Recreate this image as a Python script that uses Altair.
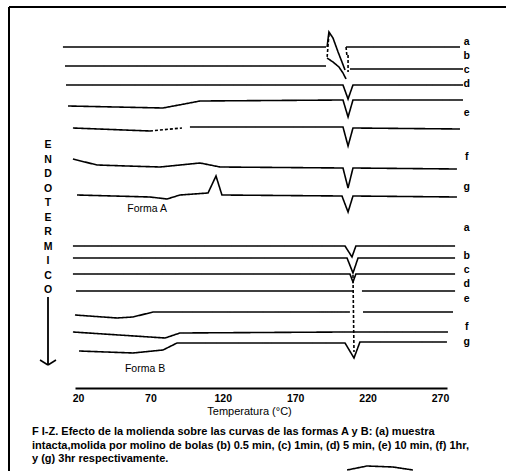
import altair as alt
import pandas as pd

# ---------------- data (temperature in °C, signal in arbitrary units) ----------------
# Forma A
A_a1_T = [9.6, 191.3];                              A_a1_S = [341, 341]
A_a_spike_T = [192.0, 193.3, 196.1, 199.6, 202.3, 204.4]; A_a_spike_S = [341, 356, 350, 336, 326, 318]
A_a_dash_T = [193.3, 192.0];                         A_a_dash_S = [354, 330]
A_a2_T = [205.1, 283.8];                             A_a2_S = [341, 341]
A_a2_dash_T = [205.1, 205.8];                        A_a2_dash_S = [341, 331]
A_b_T = [192.0, 196.1, 200.2, 203.0, 205.1];         A_b_S = [330, 326, 321, 315, 309]
A_c1_T = [11.0, 191.3];                              A_c1_S = [322, 322]
A_c_dash_T = [206.5, 206.5];                         A_c_dash_S = [333, 316]
A_c2_T = [207.8, 285.9];                             A_c2_S = [319, 319]
A_d_T = [11.7, 203.0, 206.5, 209.9, 285.9];          A_d_S = [303, 303, 289, 303, 303]
A_e_T = [13.1, 78.7, 104.3, 203.0, 206.5, 209.9, 285.9]; A_e_S = [282, 280, 287, 288, 271, 288, 288]
A_f1_T = [16.5, 69.7];                               A_f1_S = [260, 257]
A_f_dash_T = [69.7, 91.8];                           A_f_dash_S = [257, 260]
A_f2_T = [97.3, 203.0, 206.5, 209.9, 283.8];         A_f2_S = [261, 261, 242, 260, 259]
A_g_T = [16.5, 33.1, 53.8, 76.6, 104.3, 118.1, 203.0, 206.5, 209.9, 281.7]
A_g_S = [229, 223, 222, 221, 225, 221, 220, 200, 220, 219]
A_h_T = [19.3, 69.7, 81.5, 90.4, 109.8, 115.3, 119.4, 202.3, 206.5, 209.9, 281.7]
A_h_S = [193, 191, 189, 193, 195, 212, 193, 192, 176, 192, 191]

# Forma B
B_a_T = [16.5, 204.4, 209.2, 211.9, 280.4];          B_a_S = [142, 142, 131, 142, 142]
B_b_T = [16.5, 205.8, 209.9, 213.4, 280.4];          B_b_S = [130, 130, 115, 130, 130]
B_c_T = [16.5, 207.8, 209.9, 211.9, 280.4];          B_c_S = [114, 114, 106, 114, 114]
B_d1_T = [18.6, 209.9];                              B_d1_S = [97, 97]
B_d2_T = [216.1, 280.4];                             B_d2_S = [97, 97]
B_e1_T = [17.9, 46.9, 58.0, 71.8, 207.8];            B_e1_S = [73, 70, 71, 76, 76]
B_e2_T = [216.8, 279.0];                             B_e2_S = [76, 76]
B_f_T = [16.5, 80.1, 90.4, 204.4, 275.5];            B_f_S = [56, 50, 55, 56, 56]
B_g_T = [20.7, 58.0, 78.7, 88.4, 204.4, 210.6, 214.7, 274.8]
B_g_S = [37, 35, 38, 45, 45, 30, 46, 46]
B_dash_T = [209.9, 210.6];                           B_dash_S = [113, 36]

# stray stroke from the next figure of the scanned page (bottom right)
scan_T = [205.8, 219.6, 237.5, 251.3]
scan_S = [-82, -78, -79, -82]

# curve letters
lab_txt = ["a", "b", "c", "d", "e", "f", "g", "a", "b", "c", "d", "e", "f", "g"]
lab_T = [288.5] * 14
lab_S = [346, 332, 318, 304, 275, 231, 201, 160, 132, 118, 104, 89, 61, 46]

forma_txt = ["Forma A", "Forma B"]
forma_T = [67.7, 66.3]
forma_S = [179, 19]

x_ticks = [20, 70, 120, 170, 220, 270]

caption = ("F I-Z. Efecto de la molienda sobre las curvas de las formas A y B: (a) muestra\n"
           "intacta,molida por molino de bolas (b) 0.5 min, (c) 1min, (d) 5 min, (e) 10 min, (f) 1hr,\n"
           "y (g) 3hr respectivamente.")

segments = [
    ("A_a1", "solid", A_a1_T, A_a1_S), ("A_a_spike", "solid", A_a_spike_T, A_a_spike_S),
    ("A_a_dash", "dashed", A_a_dash_T, A_a_dash_S), ("A_a2", "solid", A_a2_T, A_a2_S),
    ("A_a2_dash", "dashed", A_a2_dash_T, A_a2_dash_S), ("A_b", "solid", A_b_T, A_b_S),
    ("A_c1", "solid", A_c1_T, A_c1_S), ("A_c_dash", "dashed", A_c_dash_T, A_c_dash_S),
    ("A_c2", "solid", A_c2_T, A_c2_S), ("A_d", "solid", A_d_T, A_d_S),
    ("A_e", "solid", A_e_T, A_e_S), ("A_f1", "solid", A_f1_T, A_f1_S),
    ("A_f_dash", "dashed", A_f_dash_T, A_f_dash_S), ("A_f2", "solid", A_f2_T, A_f2_S),
    ("A_g", "solid", A_g_T, A_g_S), ("A_h", "solid", A_h_T, A_h_S),
    ("B_a", "solid", B_a_T, B_a_S), ("B_b", "solid", B_b_T, B_b_S),
    ("B_c", "solid", B_c_T, B_c_S), ("B_d1", "solid", B_d1_T, B_d1_S),
    ("B_d2", "solid", B_d2_T, B_d2_S), ("B_e1", "solid", B_e1_T, B_e1_S),
    ("B_e2", "solid", B_e2_T, B_e2_S), ("B_f", "solid", B_f_T, B_f_S),
    ("B_g", "solid", B_g_T, B_g_S), ("B_dash", "dashed", B_dash_T, B_dash_S),
    ("scan", "solid", scan_T, scan_S),
]

rows = []
for name, style, ts, ss in segments:
    for i, (t, s) in enumerate(zip(ts, ss)):
        rows.append({"seg": name, "style": style, "i": i, "T": t, "S": s})
df = pd.DataFrame(rows)

df_lab = pd.DataFrame({"txt": lab_txt, "T": lab_T, "S": lab_S})
df_forma = pd.DataFrame({"txt": forma_txt, "T": forma_T, "S": forma_S})
one = pd.DataFrame({"k": [0]})

FONT = "Liberation Sans"
W, H = 372, 380

xscale = alt.Scale(domain=[17.93, 274.83], nice=False, zero=False)
yscale = alt.Scale(domain=[0, 380], nice=False, zero=False)

curves = alt.Chart(df).mark_line(color="black", strokeWidth=1.6, clip=False).encode(
    x=alt.X("T:Q", scale=xscale,
            axis=alt.Axis(values=x_ticks, grid=False, ticks=False, domainColor="black",
                          domainWidth=2, labelFont=FONT, labelFontWeight="bold",
                          labelFontSize=10.5, labelColor="black", labelPadding=5,
                          labelFlush=False, title="Temperatura (°C)", titleFont=FONT,
                          titleFontSize=11, titleFontWeight="normal", titleColor="black",
                          titleX=174, titleY=23, titleBaseline="middle", titleAlign="center")),
    y=alt.Y("S:Q", scale=yscale, axis=None),
    detail="seg:N",
    order="i:Q",
    strokeDash=alt.StrokeDash("style:N", legend=None,
                              scale=alt.Scale(domain=["solid", "dashed"], range=[[1, 0], [3, 2]])),
)

letters = alt.Chart(df_lab).mark_text(font=FONT, fontWeight="bold", fontSize=10.5,
                                      color="black", align="center", baseline="middle").encode(
    x=alt.X("T:Q", scale=xscale), y=alt.Y("S:Q", scale=yscale), text="txt:N")

formas = alt.Chart(df_forma).mark_text(font=FONT, fontWeight="normal", fontSize=10.5,
                                       color="black", align="center", baseline="middle").encode(
    x=alt.X("T:Q", scale=xscale), y=alt.Y("S:Q", scale=yscale), text="txt:N")

endo = alt.Chart(one).mark_text(font=FONT, fontWeight="bold", fontSize=10.5, color="black",
                                align="center", baseline="top", lineBreak="\n",
                                lineHeight=14.5).encode(
    x=alt.value(-27), y=alt.value(132), text=alt.value("E\nN\nD\nO\nT\nE\nR\nM\nI\nC\nO"))

arrow_shaft = alt.Chart(one).mark_rule(color="black", strokeWidth=1.8).encode(
    x=alt.value(-27), y=alt.value(289), y2=alt.value(357))
arrow_l = alt.Chart(one).mark_rule(color="black", strokeWidth=1.5).encode(
    x=alt.value(-35), x2=alt.value(-27), y=alt.value(352), y2=alt.value(357))
arrow_r = alt.Chart(one).mark_rule(color="black", strokeWidth=1.5).encode(
    x=alt.value(-19), x2=alt.value(-27), y=alt.value(352), y2=alt.value(357))

border_l = alt.Chart(one).mark_rule(color="black", strokeWidth=2).encode(
    x=alt.value(-66), y=alt.value(-1), y2=alt.value(463))
border_t = alt.Chart(one).mark_rule(color="black", strokeWidth=2).encode(
    x=alt.value(-66), x2=alt.value(431), y=alt.value(-1))

cap = alt.Chart(one).mark_text(font=FONT, fontWeight="bold", fontSize=11, color="black",
                               align="left", baseline="top", lineBreak="\n",
                               lineHeight=13.5).encode(
    x=alt.value(-43), y=alt.value(418), text=alt.value(caption))

chart = alt.layer(curves, letters, formas, endo, arrow_shaft, arrow_l, arrow_r,
                  border_l, border_t, cap).properties(
    width=W, height=H,
    autosize=alt.AutoSizeParams(type="none"),
    padding={"left": 75, "top": 8, "right": 59, "bottom": 83},
    background="white",
).configure_view(stroke=None)

chart.save("out.html", embed_options={"renderer": "svg", "actions": False})
